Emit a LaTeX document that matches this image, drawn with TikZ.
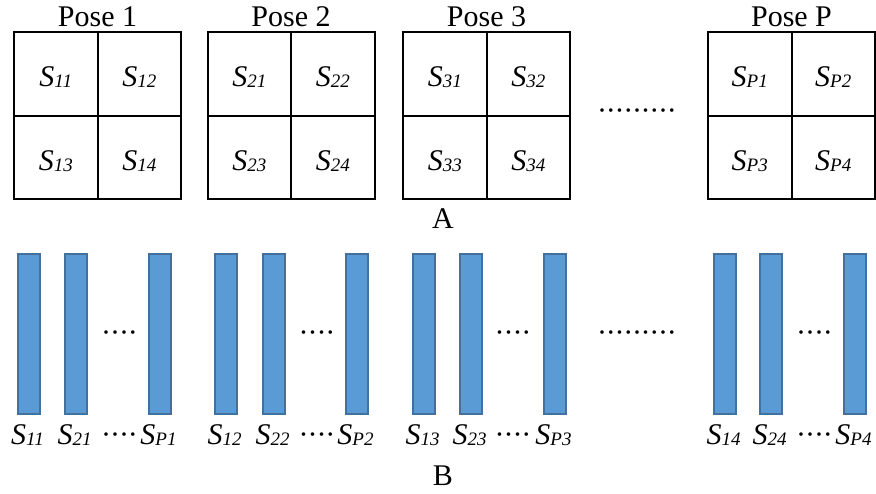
\documentclass[tikz,border=0pt]{standalone}
\usepackage{fontspec}
\setmainfont{Liberation Serif}
\newcommand\Ssub[1]{\textit{S}\raisebox{-1pt}{\fontsize{19}{19}\selectfont\textit{#1}}}
\newcommand\fourdots{·\hspace{-1.0pt}·\hspace{-1.0pt}·\hspace{-1.0pt}·}
\newcommand\ninedots{·\hspace{-1.3pt}·\hspace{-1.3pt}·\hspace{-1.3pt}·\hspace{-1.3pt}·\hspace{-1.3pt}·\hspace{-1.3pt}·\hspace{-1.3pt}·\hspace{-1.3pt}·}
\tikzset{
  every node/.style={font=\fontsize{30}{34}\selectfont, inner sep=0pt},
  cell/.style={draw=black, line width=2pt, minimum width=83.5pt, minimum height=83.5pt, text height=26pt, text depth=0pt},
  bar/.style={draw=barline, fill=barfill, line width=1.6pt, minimum width=22.5pt, minimum height=160.5pt},
  lbl/.style={anchor=base},
}
\definecolor{barfill}{HTML}{5B9BD5}
\definecolor{barline}{HTML}{41719C}
\begin{document}
\begin{tikzpicture}[x=1pt, y=-1pt]
\useasboundingbox (0,0) rectangle (876,493);
% grids
\foreach \g/\xl/\a/\b/\c/\d/\t in {1/14/11/12/13/14/1, 2/207.5/21/22/23/24/2, 3/403/31/32/33/34/3, P/708/P1/P2/P3/P4/P}{
  \node[cell] (c\g a) at (\xl+41.75, 73.75) {\Ssub{\a}};
  \node[cell] (c\g b) at (\xl+125.25, 73.75) {\Ssub{\b}};
  \node[cell] (c\g c) at (\xl+41.75, 157.25) {\Ssub{\c}};
  \node[cell] (c\g d) at (\xl+125.25, 157.25) {\Ssub{\d}};
  \node[lbl] (pose\g) at (\xl+83.5, 26) {Pose \t};
}
\node (topdots) at (637, 115) {\ninedots};
\node[lbl] (labA) at (443, 228) {A};
% bars
\foreach \g/\xa/\xb/\xc/\dx/\s in {1/29/76/160/119.5/1, 2/226/274/357/317/2, 3/424/471/555/513/3, 4/725/771/855/814.5/4}{
  \node[bar] (b\g a) at (\xa, 334) {};
  \node[bar] (b\g b) at (\xb, 334) {};
  \node[bar] (b\g c) at (\xc, 334) {};
  \node (bd\g) at (\dx, 337) {\fourdots};
  \node[lbl] (l\g a) at (\xa-1.5, 444) {\Ssub{1\s}};
  \node[lbl] (l\g b) at (\xb-1.5, 444) {\Ssub{2\s}};
  \node[lbl] (l\g c) at (\xc-1.5, 444) {\Ssub{P\s}};
  \node[lbl] (ld\g) at (\dx, 444) {\fourdots};
}
\node (middots) at (637, 337) {\ninedots};
\node[lbl] (labB) at (443, 485) {B};
\end{tikzpicture}
\end{document}
